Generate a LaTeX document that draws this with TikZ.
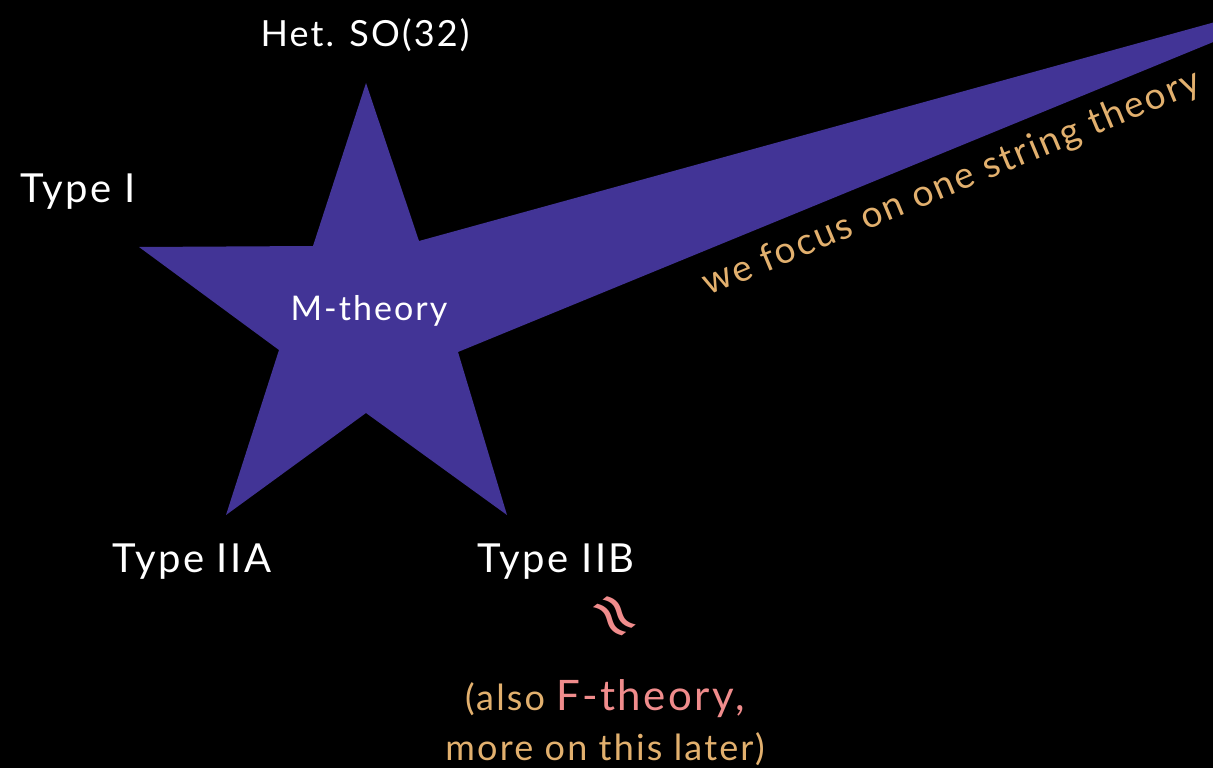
\documentclass[tikz,border=0pt]{standalone}
\usepackage{fontspec}
\setmainfont{Lato}[LetterSpace=6]
\newfontfamily\symfont{DejaVu Sans}
\definecolor{starpurple}{RGB}{66,52,150}
\definecolor{tan}{RGB}{226,176,110}
\definecolor{pinkish}{RGB}{240,140,140}
\begin{document}
\begin{tikzpicture}[x=1pt,y=-1pt,
  lbl/.style={text=white,font=\fontsize{40}{46}\selectfont,inner sep=0pt,anchor=base},
  note/.style={text=tan,font=\fontsize{36}{42}\selectfont,inner sep=0pt,anchor=base}]
\useasboundingbox (0,0) rectangle (1213,768);
\fill[black] (0,0) rectangle (1213,768);
\begin{scope}
\clip (0,0) rectangle (1213,768);
\fill[starpurple] (366,83) -- (419,241) -- (1357,-17) -- (458,352) -- (507,515)
  -- (366,413) -- (226,515) -- (279,350) -- (139,247) -- (313,246) -- cycle;
\end{scope}
\node[lbl,font=\fontsize{36}{42}\selectfont] (het) at (365,47) {Het. SO(32)};
\node[lbl,anchor=base west] (t1) at (20,202) {Type I};
\node[lbl,font=\fontsize{34}{40}\selectfont] (m) at (369,320) {M-theory};
\node[lbl] (t2a) at (192,572) {Type IIA};
\node[lbl] (t2b) at (556,572) {Type IIB};
\node[text=pinkish,font=\symfont\fontsize{64}{64}\selectfont,rotate=-52,inner sep=0pt] (approx) at (611,619) {≈};
\node[note] (also) at (605,710) {(also {\color{pinkish}\fontsize{42}{48}\selectfont F-theory,}};
\node[note] (more) at (605,760) {more on this later)};
\node[note,font=\fontsize{37}{42}\selectfont,rotate=22.6] (focus) at (956,193) {we focus on one string theory};
\end{tikzpicture}
\end{document}
